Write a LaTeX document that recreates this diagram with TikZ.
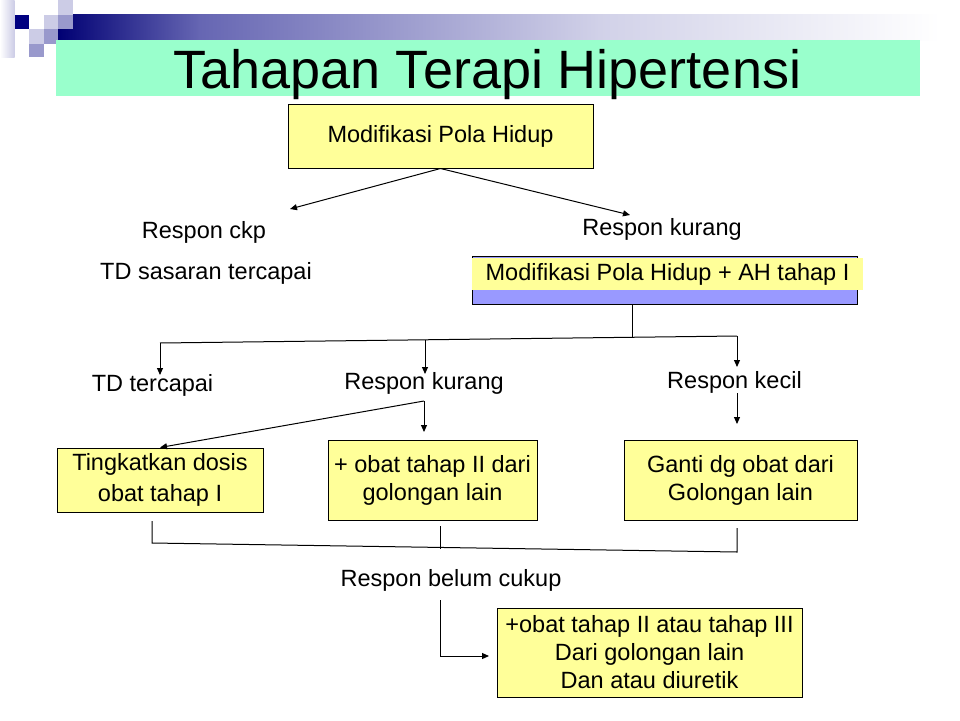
\documentclass[tikz,border=0pt]{standalone}
\usepackage{fontspec}
\setmainfont{Liberation Sans}
\usetikzlibrary{arrows.meta,calc}
\definecolor{mint}{HTML}{99FFCC}
\definecolor{boxyellow}{HTML}{FFFF99}
\definecolor{lav}{HTML}{9999FF}
\definecolor{navyd}{HTML}{000080}
\definecolor{sqlight}{HTML}{CCCCE6}
\definecolor{sqmid}{HTML}{9999CC}
\newcommand{\dgbody}{\fontsize{23.5}{28}\selectfont}
\newcommand{\dgtitle}{\fontsize{54}{60}\selectfont}
\tikzset{
  box/.style={draw=black, line width=1pt, fill=boxyellow, inner sep=0pt, align=center, font=\dgbody},
  lbl/.style={inner sep=0pt, font=\dgbody},
  conn/.style={draw=black, line width=1pt},
  arr/.style={conn, -{Triangle[length=7pt,width=6pt]}},
  ahbox/.style={draw=black, line width=1pt, fill=lav, inner sep=0pt, minimum width=385pt, minimum height=48pt},
  ahlabel/.style={fill=boxyellow, inner sep=0pt, minimum width=391pt, minimum height=32pt, font=\dgbody}
}
\begin{document}
\begin{tikzpicture}[x=1pt,y=-1pt]
\useasboundingbox (0,0) rectangle (960,720);
\fill[white] (0,0) rectangle (960,720);
% header decoration
\shade[left color=white, right color=sqlight] (0,0) rectangle (14.5,57);
\shade[left color=navyd!90!black, right color=navyd!60!white] (58,14) rectangle (200,40);
\shade[left color=navyd!60!white, right color=navyd!18!white] (199.5,14) rectangle (600,40);
\shade[left color=navyd!18!white, right color=white] (599.5,14) rectangle (940,40);
\fill[navyd] (14.5,14.5) rectangle (29,29);
\fill[sqlight] (58,0) rectangle (72.5,14.5);
\fill[sqlight] (43.5,14.5) rectangle (58,29);
\fill[sqmid] (58,14.5) rectangle (72.5,29);
\fill[sqlight] (29,29) rectangle (43.5,43.5);
\fill[sqmid] (43.5,29) rectangle (58,43.5);
\fill[sqmid] (29,43.5) rectangle (43.5,57);
\fill[mint] (56,40) rectangle (920,96);
\node[anchor=base, inner sep=0pt, font=\dgtitle] (title) at (487.5,88) {Tahapan Terapi Hipertensi};
% nodes
\node[box, minimum width=305pt, minimum height=64pt] (box1) at (440.5,136) {Modifikasi Pola Hidup};
\node[lbl] (ckp) at (204,232) {Respon ckp};
\node[lbl] (sasaran) at (206,273) {TD sasaran tercapai};
\node[lbl] (rk1) at (662,229) {Respon kurang};
\node[ahbox] (ah) at (664.5,280) {};
\node[ahlabel] (ahl) at (667.5,274) {Modifikasi Pola Hidup + AH tahap I};
\node[lbl] (tdt) at (152.5,385) {TD tercapai};
\node[lbl] (rk2) at (424,383) {Respon kurang};
\node[lbl] (rkc) at (734.5,382) {Respon kecil};
\node[box, minimum width=206pt, minimum height=64pt, font=\fontsize{23.5}{31}\selectfont] (ting) at (160,480) {Tingkatkan dosis\\ obat tahap I};
\node[box, minimum width=209pt, minimum height=80pt] (plus) at (432.5,480) {+ obat tahap II dari\\golongan lain};
\node[box, minimum width=233pt, minimum height=80pt] (ganti) at (740.5,480) {Ganti dg obat dari\\Golongan lain};
\node[lbl] (rbc) at (451,580) {Respon belum cukup};
\node[box, minimum width=305pt, minimum height=89pt] (last) at (649.5,652.5) {+obat tahap II atau tahap III\\Dari golongan lain\\Dan atau diuretik};
% connectors
\coordinate (t1) at (290,209);
\coordinate (t2) at (630,215);
\draw[arr] (box1.south) -- (t1);
\draw[arr] (box1.south) -- (t2);
\coordinate (j1) at (632,337);
\draw[conn] (ah.south -| j1) -- (j1);
\coordinate (hl) at (160,343);
\coordinate (hr) at (737,336);
\coordinate (hm) at (425,340);
\draw[conn] (hl) -- (hr);
\coordinate (a1) at (160,375);
\coordinate (a2) at (425,374);
\coordinate (a3) at (737,367);
\draw[arr] (hl) -- (a1);
\draw[arr] (hm) -- (a2);
\draw[arr] (hr) -- (a3);
\coordinate (s2) at (424,401);
\coordinate (a4) at (424,432);
\draw[arr] (s2) -- (ting.north);
\draw[arr] (s2) -- (a4);
\coordinate (s3) at (737,393);
\coordinate (a5) at (737,424);
\draw[arr] (s3) -- (a5);
\coordinate (b1) at (152,521);
\coordinate (b2) at (152,543);
\coordinate (b3) at (737,552);
\coordinate (b4) at (737,528);
\draw[conn] (b1) -- (b2) -- (b3) -- (b4);
\coordinate (m1) at (440,526);
\coordinate (m2) at (440,549);
\draw[conn] (m1) -- (m2);
\coordinate (c1) at (440,600);
\coordinate (c2) at (440,656);
\coordinate (c3) at (489,656);
\draw[arr] (c1) -- (c2) -- (c3);
\end{tikzpicture}
\end{document}
